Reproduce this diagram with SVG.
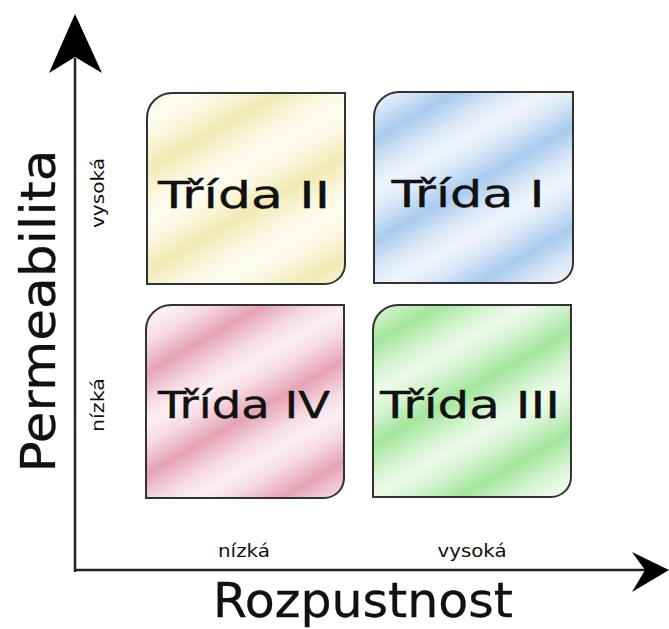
<svg xmlns="http://www.w3.org/2000/svg" width="669" height="629" viewBox="0 0 669 629">
<style>
.box{stroke:#333;stroke-width:2}
.t{font-family:"Comic Sans MS","DejaVu Sans",sans-serif;fill:#111}
.big{font-size:38px;stroke:#111;stroke-width:0.4}
.axis{font-size:48px;stroke:#111;stroke-width:0.3}
.small{font-size:17px}
.ax{stroke:#222;stroke-width:2.5;fill:none}
</style>
<defs>
<linearGradient id="gy" x1="0" x2="1" y1="0" y2="0"><stop offset="0" stop-color="#fdfcf2"/><stop offset="0.2" stop-color="#fbf8e2"/><stop offset="0.5" stop-color="#f1eab4"/><stop offset="0.8" stop-color="#fbf8e2"/><stop offset="1" stop-color="#fdfcf2"/></linearGradient>
<linearGradient id="gb" x1="0" x2="1" y1="0" y2="0"><stop offset="0" stop-color="#f0f5fc"/><stop offset="0.2" stop-color="#dde9f8"/><stop offset="0.5" stop-color="#a9cbee"/><stop offset="0.8" stop-color="#dde9f8"/><stop offset="1" stop-color="#f0f5fc"/></linearGradient>
<linearGradient id="gp" x1="0" x2="1" y1="0" y2="0"><stop offset="0" stop-color="#fcf0f3"/><stop offset="0.2" stop-color="#f6dbe3"/><stop offset="0.5" stop-color="#e6a3b6"/><stop offset="0.8" stop-color="#f6dbe3"/><stop offset="1" stop-color="#fcf0f3"/></linearGradient>
<linearGradient id="gg" x1="0" x2="1" y1="0" y2="0"><stop offset="0" stop-color="#eefaec"/><stop offset="0.2" stop-color="#d6f4d2"/><stop offset="0.5" stop-color="#a4e69d"/><stop offset="0.8" stop-color="#d6f4d2"/><stop offset="1" stop-color="#eefaec"/></linearGradient>
<pattern id="py" patternUnits="userSpaceOnUse" width="88" height="10" patternTransform="rotate(60)"><rect width="88" height="10" fill="url(#gy)"/></pattern>
<pattern id="pb" patternUnits="userSpaceOnUse" width="88" height="10" patternTransform="rotate(60)"><rect width="88" height="10" fill="url(#gb)"/></pattern>
<pattern id="pp" patternUnits="userSpaceOnUse" width="88" height="10" patternTransform="rotate(60)"><rect width="88" height="10" fill="url(#gp)"/></pattern>
<pattern id="pg" patternUnits="userSpaceOnUse" width="88" height="10" patternTransform="rotate(60)"><rect width="88" height="10" fill="url(#gg)"/></pattern>
</defs>
<rect width="669" height="629" fill="#fff"/>
<g id="axes">
<line class="ax" x1="75" y1="572" x2="75" y2="58"/>
<polygon points="75,14 102,73 75,57 49,73" fill="#000"/>
<line class="ax" x1="74" y1="570" x2="646" y2="570"/>
<polygon points="669,570 632,552 645,570 632,592" fill="#000"/>
</g>
<g id="labels">
<text class="t axis" transform="translate(55,311) rotate(-90)" text-anchor="middle" textLength="323" lengthAdjust="spacingAndGlyphs">Permeabilita</text>
<text class="t axis" x="363" y="617" text-anchor="middle" textLength="300" lengthAdjust="spacingAndGlyphs">Rozpustnost</text>
<text class="t small" transform="translate(104,193) rotate(-90)" text-anchor="middle" textLength="70" lengthAdjust="spacingAndGlyphs">vysoká</text>
<text class="t small" transform="translate(104,405) rotate(-90)" text-anchor="middle" textLength="54" lengthAdjust="spacingAndGlyphs">nízká</text>
<text class="t small" x="244" y="557" text-anchor="middle" textLength="52" lengthAdjust="spacingAndGlyphs">nízká</text>
<text class="t small" x="472" y="557" text-anchor="middle" textLength="69" lengthAdjust="spacingAndGlyphs">vysoká</text>
</g>
<g id="class2">
<path class="box" fill="url(#py)" d="M147,118 A25,25 0 0 1 172,93 H345 V264 A20,20 0 0 1 325,284 H147 Z"/>
<text class="t big" x="244" y="208" text-anchor="middle" textLength="172" lengthAdjust="spacingAndGlyphs">Třída II</text>
</g>
<g id="class1">
<path class="box" fill="url(#pb)" d="M374,117 A25,25 0 0 1 399,92 H573 V263 A20,20 0 0 1 553,283 H374 Z"/>
<text class="t big" x="468" y="207" text-anchor="middle" textLength="153" lengthAdjust="spacingAndGlyphs">Třída I</text>
</g>
<g id="class4">
<path class="box" fill="url(#pp)" d="M146,330 A25,25 0 0 1 171,305 H344 V478 A20,20 0 0 1 324,498 H146 Z"/>
<text class="t big" x="244" y="418" text-anchor="middle" textLength="172" lengthAdjust="spacingAndGlyphs">Třída IV</text>
</g>
<g id="class3">
<path class="box" fill="url(#pg)" d="M373,330 A25,25 0 0 1 398,305 H571 V477 A20,20 0 0 1 551,497 H373 Z"/>
<text class="t big" x="470" y="418" text-anchor="middle" textLength="180" lengthAdjust="spacingAndGlyphs">Třída III</text>
</g>
</svg>
